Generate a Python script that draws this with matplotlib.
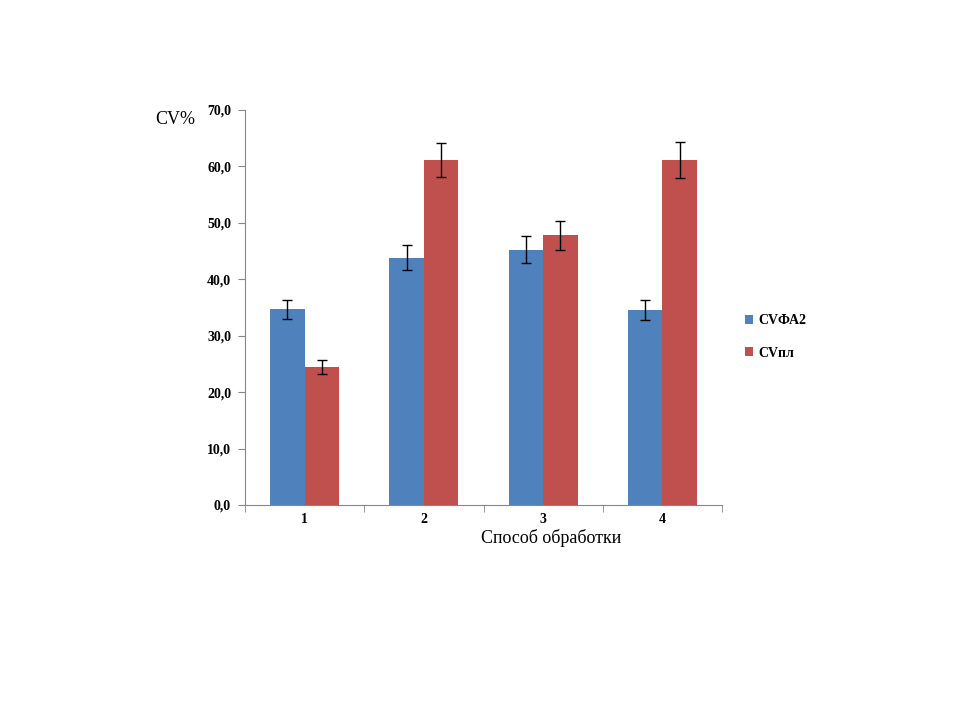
import numpy as np
import matplotlib
matplotlib.use("Agg")
import matplotlib.pyplot as plt

# Данные
categories = ["1", "2", "3", "4"]
cv_fa2 = [34.7, 43.8, 45.2, 34.6]
cv_fa2_err = [1.7, 2.2, 2.4, 1.8]
cv_pl = [24.5, 61.1, 47.8, 61.1]
cv_pl_err = [1.2, 3.0, 2.6, 3.2]
series_names = ["CVФА2", "CVпл"]

plt.rcParams['font.family'] = ['Liberation Serif', 'DejaVu Serif']

fig = plt.figure(figsize=(9.6, 7.2), dpi=100)
ax = fig.add_axes([245/960, 1-505/720, 477/960, 395/720])

x = np.arange(len(categories))
w = 0.29
ekw = dict(ecolor="black", elinewidth=1.0, capsize=3.5, capthick=1.0)
ax.bar(x - w/2, cv_fa2, w, color="#4F81BD", label=series_names[0],
       yerr=cv_fa2_err, error_kw=ekw)
ax.bar(x + w/2, cv_pl, w, color="#C0504D", label=series_names[1],
       yerr=cv_pl_err, error_kw=ekw)

ax.set_xlim(-0.5, len(categories) - 0.5)
ax.set_ylim(0, 70)
ax.set_yticks(np.arange(0, 71, 10))
ax.set_yticklabels([f"{v:.1f}".replace(".", ",") for v in np.arange(0, 71, 10)],
                   fontsize=10, fontweight="bold")
ax.set_xticks(x)
ax.set_xticklabels(categories, fontsize=10, fontweight="bold")
ax.set_xticks(np.arange(-0.5, len(categories), 1), minor=True)
ax.tick_params(axis="x", which="major", length=0, pad=6)
ax.tick_params(axis="x", which="minor", length=5, color="#868686")
ax.tick_params(axis="y", length=5, color="#868686", pad=5)

for s in ["top", "right"]:
    ax.spines[s].set_visible(False)
for s in ["left", "bottom"]:
    ax.spines[s].set_color("#868686")

fig.text(155/960, 1-120/720, "CV%", fontsize=13, va="center")
fig.text(551/960, 1-538/720, "Способ обработки", fontsize=13, ha="center", va="center")

ax.legend(loc="center left", bbox_to_anchor=(732/960, 1-337/720), bbox_transform=fig.transFigure,
          frameon=False, prop=dict(size=10, weight="bold"), handlelength=0.6, handleheight=0.6,
          handletextpad=0.4, labelspacing=1.4)

fig.savefig("out.png", dpi=100)
